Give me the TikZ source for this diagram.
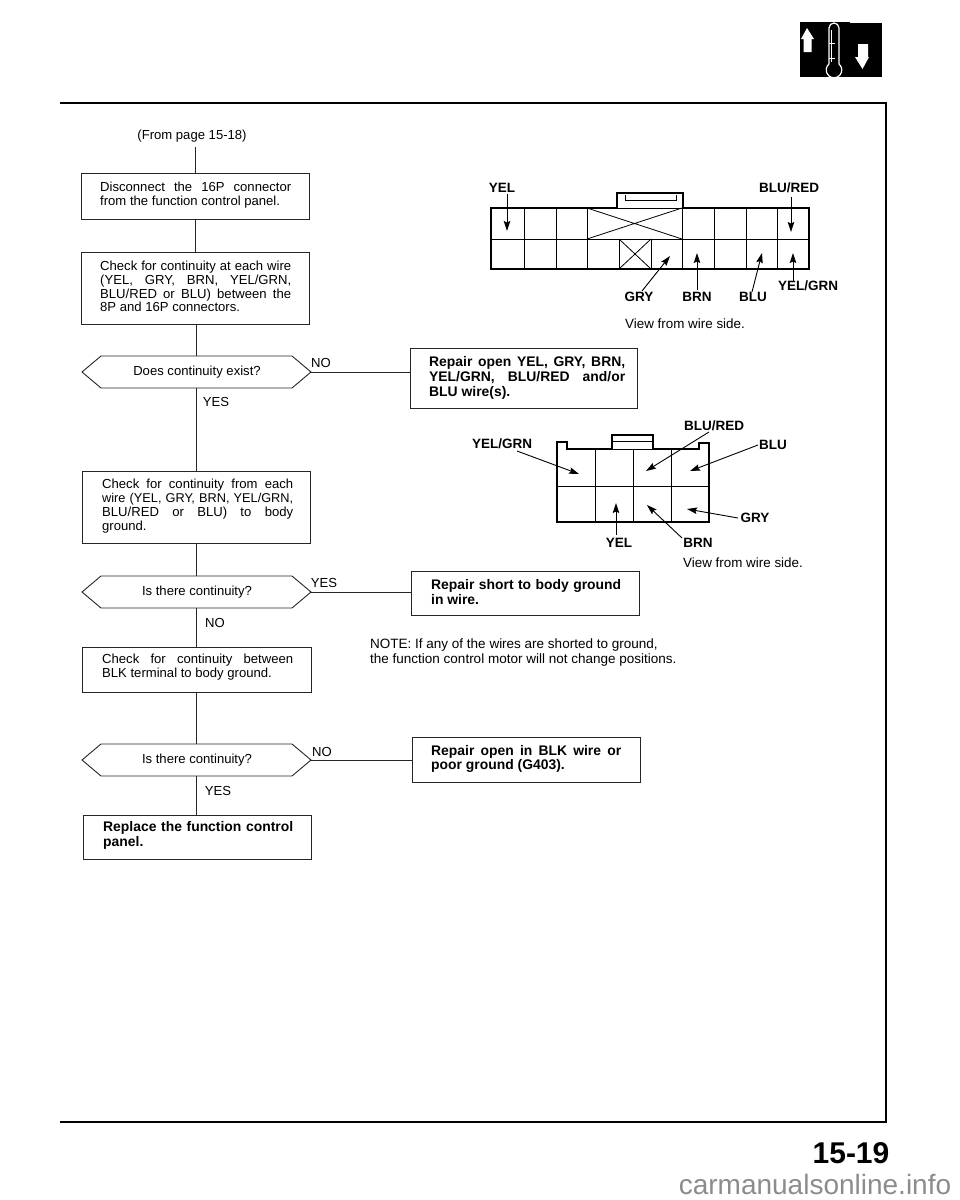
\documentclass[tikz,border=0pt]{standalone}
\usepackage{fontspec}
\setmainfont{Liberation Sans}
\usetikzlibrary{arrows.meta}
\newcommand\nf{\fontsize{13.1}{13.8}\selectfont}
\newcommand\bfa{\fontsize{13.9}{14.8}\selectfont\bfseries}
\newcommand\tight[1]{{\fontsize{12.75}{13.8}\selectfont #1}}
\tikzset{x=1pt,y=-1pt,
 flow/.style={draw=black!85,line width=0.9pt},
 box/.style={flow,rectangle,anchor=north west,inner sep=0pt},
 body/.style={anchor=west,text width=191pt,align=justify,inner sep=0pt,font=\nf},
 bodyb/.style={anchor=west,text width=190pt,align=justify,inner sep=0pt,font=\bfa},
 lab/.style={inner sep=0pt,font=\fontsize{13.5}{14}\selectfont\bfseries},
 txt/.style={inner sep=0pt,font=\nf},
 wire/.style={line width=0.9pt,-{Stealth[length=10pt,width=6.5pt,inset=1.5pt]}},
 conn/.style={line width=1.6pt},
 grid/.style={line width=0.8pt},
}
\newcommand\boxnode[4]{%
 \node[box,minimum width=#3pt,minimum height=#4pt] (#1) at (#2) {};
}
\newcommand\decision[3]{%
 \coordinate (#1) at (196,#2);
 \draw[flow] (82,#2) -- (101,#2-16) -- (292,#2-16) -- (311,#2) -- (292,#2+16) -- (101,#2+16) -- cycle;
 \node[txt] (#1t) at (197,#2) {#3};
 \coordinate (#1n) at (196,#2-16);
 \coordinate (#1s) at (196,#2+16);
 \coordinate (#1e) at (311,#2);
}
\begin{document}
\begin{tikzpicture}
\useasboundingbox (0,0) rectangle (960,1200);
% page frame
\coordinate (fa) at (60,103); \coordinate (fb) at (886,103); \coordinate (fc) at (886,1122); \coordinate (fd) at (60,1122);
\draw[line width=1.4pt] (fa) -- (fb) -- (fc) -- (fd);
% icon
\fill[black] (800,22) rectangle (850,77);
\fill[black] (850,23) rectangle (882,77);
\fill[white] (801,39) -- (807,28) -- (814,39) -- (811.5,39) -- (811.5,52) -- (803.5,52) -- (803.5,39) -- cycle;
\fill[white] (858,44) -- (868,44) -- (868,57) -- (869,57) -- (862.5,69) -- (855,57) -- (858,57) -- cycle;
\draw[white,line width=1.2pt] (829,64) -- (829,28) arc (180:360:5) -- (839,64) arc (-50:230:7.8);
\draw[white,line width=.6pt] (831.5,30) -- (831.5,62) (829,43) -- (835,43) (829,58) -- (835,58);
% title
\node[txt] (from) at (192,136) {(From page 15-18)};
\node[font=\fontsize{30}{30}\selectfont\bfseries,inner sep=0pt] (pg) at (851,1153) {15-19};
\node[font=\fontsize{28}{28}\selectfont,inner sep=0pt,text=black!45] (wm) at (815,1184) {carmanualsonline.info};
% flow boxes
\boxnode{b1}{81,173}{228}{46}
\node[body] (b1t) at (100,195) {Disconnect the 16P connector\linebreak from the function control panel.};
\boxnode{b2}{81,252}{228}{72}
\node[body] (b2t) at (100,286.5) {Check for continuity at each wire\linebreak (YEL, GRY, BRN, YEL/GRN,\linebreak BLU/RED or BLU) between the\linebreak 8P and 16P connectors.};
\decision{d1}{372}{Does continuity exist?}
\boxnode{b3}{82,471}{228}{72}
\node[body] (b3t) at (102,506) {Check for continuity from each\linebreak \tight{wire (YEL, GRY, BRN, YEL/GRN,}\linebreak BLU/RED or BLU) to body\linebreak ground.};
\decision{d2}{592}{Is there continuity?}
\boxnode{b4}{82,647}{229}{45}
\node[body] (b4t) at (102,667.5) {Check for continuity between\linebreak BLK terminal to body ground.};
\decision{d3}{760}{Is there continuity?}
\boxnode{b5}{83,815}{228}{44}
\node[bodyb] (b5t) at (103,835) {Replace the function control\linebreak panel.};
% repair boxes
\boxnode{r1}{410,348}{227}{60}
\node[bodyb,text width=196pt] (r1t) at (429,378) {Repair open YEL, GRY, BRN,\linebreak YEL/GRN, BLU/RED and/or\linebreak BLU wire(s).};
\boxnode{r2}{411,571}{228}{44}
\node[bodyb] (r2t) at (431,592) {Repair short to body ground\linebreak in wire.};
\boxnode{r3}{412,737}{228}{45}
\node[bodyb] (r3t) at (431,759) {Repair open in BLK wire or\linebreak poor ground (G403).};
% flow lines
\coordinate (start) at (195,147);
\coordinate (r1w) at (r1.west|-d1e);
\coordinate (r2w) at (r2.west|-d2e);
\coordinate (r3w) at (r3.west|-d3e);
\draw[flow] (start) -- (start|-b1.north);
\draw[flow] (start|-b1.south) -- (start|-b2.north);
\draw[flow] (d1|-b2.south) -- (d1n);
\draw[flow] (d1s) -- (d1|-b3.north);
\draw[flow] (d2|-b3.south) -- (d2n);
\draw[flow] (d2s) -- (d2|-b4.north);
\draw[flow] (d3|-b4.south) -- (d3n);
\draw[flow] (d3s) -- (d3|-b5.north);
\draw[flow] (d1e) -- (r1w);
\draw[flow] (d2e) -- (r2w);
\draw[flow] (d3e) -- (r3w);
% flow labels
\node[txt] (l1) at (321,363) {NO};
\node[txt] (l2) at (216,402) {YES};
\node[txt] (l3) at (324,583) {YES};
\node[txt] (l4) at (215,623) {NO};
\node[txt] (l5) at (322,752) {NO};
\node[txt] (l6) at (218,791) {YES};
% note
\node[txt,anchor=west,align=left,font=\fontsize{13.5}{14}\selectfont] (note) at (370,652.5) {NOTE: If any of the wires are shorted to ground,\\the function control motor will not change positions.};
% ---- 16P connector
\draw[conn] (491,208) -- (617,208) -- (617,193) -- (683,193) -- (683,208) -- (809,208) -- (809,269) -- (491,269) -- cycle;
\draw[line width=.8pt] (625,195) -- (625,200) -- (676,200) -- (676,195);
\draw[grid] (617,208) -- (683,208);
\draw[grid] (491,239) -- (809,239);
\foreach \x in {524,556,682,714,746,777} \draw[grid] (\x,208) -- (\x,269);
\draw[grid] (587,208) -- (587,269);
\draw[grid] (619,239) -- (619,269) (651,239) -- (651,269);
\draw[grid] (587,208) -- (682,239) (587,239) -- (682,208) (619,239) -- (651,269) (619,269) -- (651,239);
\node[lab] (a1) at (502,188) {YEL};
\node[lab] (a2) at (789,188) {BLU/RED};
\node[lab] (a3) at (639,297) {GRY};
\node[lab] (a4) at (697,297) {BRN};
\node[lab] (a5) at (753,297) {BLU};
\node[lab] (a6) at (808,286) {YEL/GRN};
\node[txt,font=\fontsize{13.4}{14}\selectfont] (a7) at (685,324) {View from wire side.};
\coordinate (p1) at (507,231); \coordinate (p2) at (791,232); \coordinate (p3) at (670,256);
\coordinate (p4) at (697,253); \coordinate (p5) at (762,253); \coordinate (p6) at (793,253);
\draw[wire] (507,194) -- (p1);
\draw[wire] (791,197) -- (p2);
\draw[wire] (642,291) -- (p3);
\draw[wire] (697,290) -- (p4);
\draw[wire] (752,292) -- (p5);
\draw[wire] (793,281) -- (p6);
% ---- 8P connector
\draw[conn] (557,522) -- (557,442) -- (567,442) -- (567,449) -- (612,449) -- (612,435) -- (653,435) -- (653,449) -- (699,449) -- (699,443) -- (709,443) -- (709,522) -- cycle;
\draw[grid] (612,449) -- (653,449) (612,441) -- (653,441);
\draw[grid] (557,486) -- (709,486);
\foreach \x in {595,633,671} \draw[grid] (\x,449) -- (\x,522);
\node[lab] (c1) at (502,444) {YEL/GRN};
\node[lab] (c2) at (714,426) {BLU/RED};
\node[lab] (c3) at (773,445) {BLU};
\node[lab] (c4) at (755,518) {GRY};
\node[lab] (c5) at (619,543) {YEL};
\node[lab] (c6) at (698,543) {BRN};
\node[txt,font=\fontsize{13.4}{14}\selectfont] (c7) at (743,563) {View from wire side.};
\coordinate (q1) at (579,474); \coordinate (q2) at (646,471); \coordinate (q3) at (690,471);
\coordinate (q4) at (687,509); \coordinate (q5) at (647,505); \coordinate (q6) at (616,503);
\draw[wire] (517,451) -- (q1);
\draw[wire] (709,432) -- (q2);
\draw[wire] (758,445) -- (q3);
\draw[wire] (738,518) -- (q4);
\draw[wire] (682,538) -- (q5);
\draw[wire] (616,535) -- (q6);
\end{tikzpicture}
\end{document}
